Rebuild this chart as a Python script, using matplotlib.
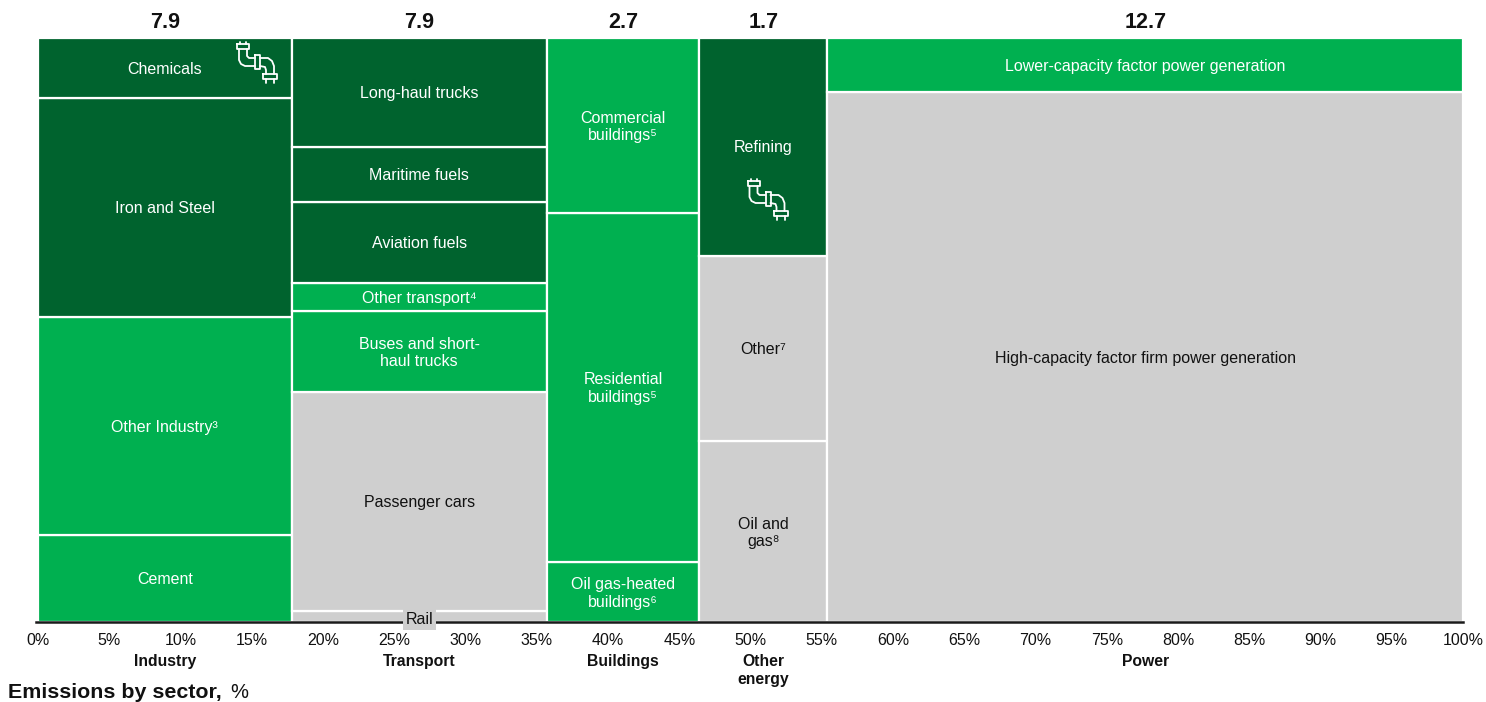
import matplotlib
matplotlib.use("Agg")
import matplotlib.pyplot as plt
from matplotlib.lines import Line2D
from matplotlib.transforms import Affine2D

plt.rcParams['font.family'] = ['Liberation Sans', 'DejaVu Sans']

W, H = 1486, 702
DARK, GREEN, GRAY = '#00632E', '#00B050', '#CFCFCF'

sectors = ['Industry', 'Transport', 'Buildings', 'Other\nenergy', 'Power']
sector_totals = ['7.9', '7.9', '2.7', '1.7', '12.7']
sector_widths = [17.8, 17.9, 10.7, 9.0, 44.6]

# bottom to top in each sector
industry_labels = ['Cement', 'Other Industry³', 'Iron and Steel', 'Chemicals']
industry_values = [14.9, 37.4, 37.5, 10.2]
industry_colors = [GREEN, GREEN, DARK, DARK]

transport_labels = ['Rail', 'Passenger cars', 'Buses and short-\nhaul trucks',
                    'Other transport⁴', 'Aviation fuels', 'Maritime fuels', 'Long-haul trucks']
transport_values = [1.9, 37.5, 13.9, 4.7, 14.0, 9.4, 18.6]
transport_colors = [GRAY, GRAY, GREEN, GREEN, DARK, DARK, DARK]

buildings_labels = ['Oil gas-heated\nbuildings⁶', 'Residential\nbuildings⁵', 'Commercial\nbuildings⁵']
buildings_values = [10.3, 59.8, 29.9]
buildings_colors = [GREEN, GREEN, GREEN]

energy_labels = ['Oil and\ngas⁸', 'Other⁷', 'Refining']
energy_values = [31.0, 31.7, 37.3]
energy_colors = [GRAY, GRAY, DARK]

power_labels = ['High-capacity factor firm power generation', 'Lower-capacity factor power generation']
power_values = [90.8, 9.2]
power_colors = [GRAY, GREEN]

x_ticks = list(range(0, 101, 5))

groups = [
    (industry_labels, industry_values, industry_colors),
    (transport_labels, transport_values, transport_colors),
    (buildings_labels, buildings_values, buildings_colors),
    (energy_labels, energy_values, energy_colors),
    (power_labels, power_values, power_colors),
]

fig = plt.figure(figsize=(W / 100, H / 100), dpi=100)
L, R, T, B = 38, 1463, 38, 622
ax = fig.add_axes([L / W, 1 - B / H, (R - L) / W, (B - T) / H])
ax.set_xlim(0, 100)
ax.set_ylim(0, 100)
for s in ['left', 'right', 'top']:
    ax.spines[s].set_visible(False)
ax.spines['bottom'].set_linewidth(1.8)
ax.spines['bottom'].set_color('#1a1a1a')
ax.spines['bottom'].set_zorder(4)
ax.spines['bottom'].set_bounds(-0.15, 100)
ax.set_yticks([])
ax.set_xticks(x_ticks)
ax.set_xticklabels([f'{t}%' for t in x_ticks], fontsize=11.5, color='#111111')
ax.tick_params(axis='x', length=0, pad=8)

FS = 11.5
left = 0
for (labels, vals, cols), sector, total, width in zip(groups, sectors, sector_totals, sector_widths):
    bottom = 0
    for lab, v, c in zip(labels, vals, cols):
        ax.bar(left, v, width=width, bottom=bottom, align='edge', color=c,
               edgecolor='white', linewidth=1.6, zorder=2, clip_on=False)
        tc = 'white' if c != GRAY else '#111111'
        if lab == 'Rail':
            ax.text(left + width / 2, bottom + v / 2 - 0.55, lab, ha='center', va='center',
                    fontsize=FS, color=tc, zorder=6,
                    bbox=dict(facecolor=GRAY, edgecolor='none', pad=2.0))
        else:
            ypos = bottom + v / 2 - 0.25
            if lab == 'Refining':
                ypos = bottom + v * 0.497
            ax.text(left + width / 2, ypos, lab, ha='center', va='center',
                    fontsize=FS, color=tc, zorder=5, linespacing=1.2)
        bottom += v
    cx = left + width / 2
    ax.annotate(total, (cx, 1), xycoords=('data', 'axes fraction'), xytext=(0, 16),
                textcoords='offset pixels', ha='center', va='center',
                fontsize=15.5, fontweight='bold', color='#111111')
    ax.annotate(sector, (cx, 0), xycoords=('data', 'axes fraction'), xytext=(0, -32),
                textcoords='offset pixels', ha='center', va='top',
                fontsize=11.3, fontweight='bold', color='#111111', linespacing=1.25)
    left += width

fig.text(8 / W, 1 - 693 / H, 'Emissions by sector,', fontsize=15.4, fontweight='bold',
         va='center', ha='left', color='#111111')
fig.text(230 / W, 1 - 693 / H, '%', fontsize=14.5, va='center', ha='left', color='#111111')


def pipe_icon(dx, dy):
    """Decorative pipe glyph, given in pixels from the top-left of the figure."""
    to_fig = Affine2D().scale(1, -1).translate(dx, H - dy)
    strokes = [
        # top flange
        [(237, 44), (249, 44), (249, 49), (237, 49), (237, 44)],
        [(240, 44), (240, 41.5)], [(246, 44), (246, 41.5)],
        # left pipe outer / inner
        [(239, 49), (239, 60), (241, 64), (245, 66), (255, 66)],
        [(247, 49), (247, 56), (249, 58), (255, 58)],
        # coupling
        [(255, 55), (260, 55), (260, 69), (255, 69), (255, 55)],
        # right pipe outer / inner
        [(260, 58), (268, 58), (272, 61), (274, 66), (274, 74)],
        [(260, 66), (265, 67), (266, 70), (266, 74)],
        # bottom flange
        [(263, 74), (277, 74), (277, 79), (263, 79), (263, 74)],
        [(266, 79), (266, 82.5)], [(274, 79), (274, 82.5)],
    ]
    for st in strokes:
        xs = [p[0] for p in st]
        ys = [p[1] for p in st]
        fig.add_artist(Line2D(xs, ys, transform=to_fig, color='white', linewidth=1.3,
                              solid_joinstyle='round', solid_capstyle='round', zorder=10))


pipe_icon(0, 0)
pipe_icon(510.5, 137)

fig.savefig('out.png', dpi=100, facecolor='white')
